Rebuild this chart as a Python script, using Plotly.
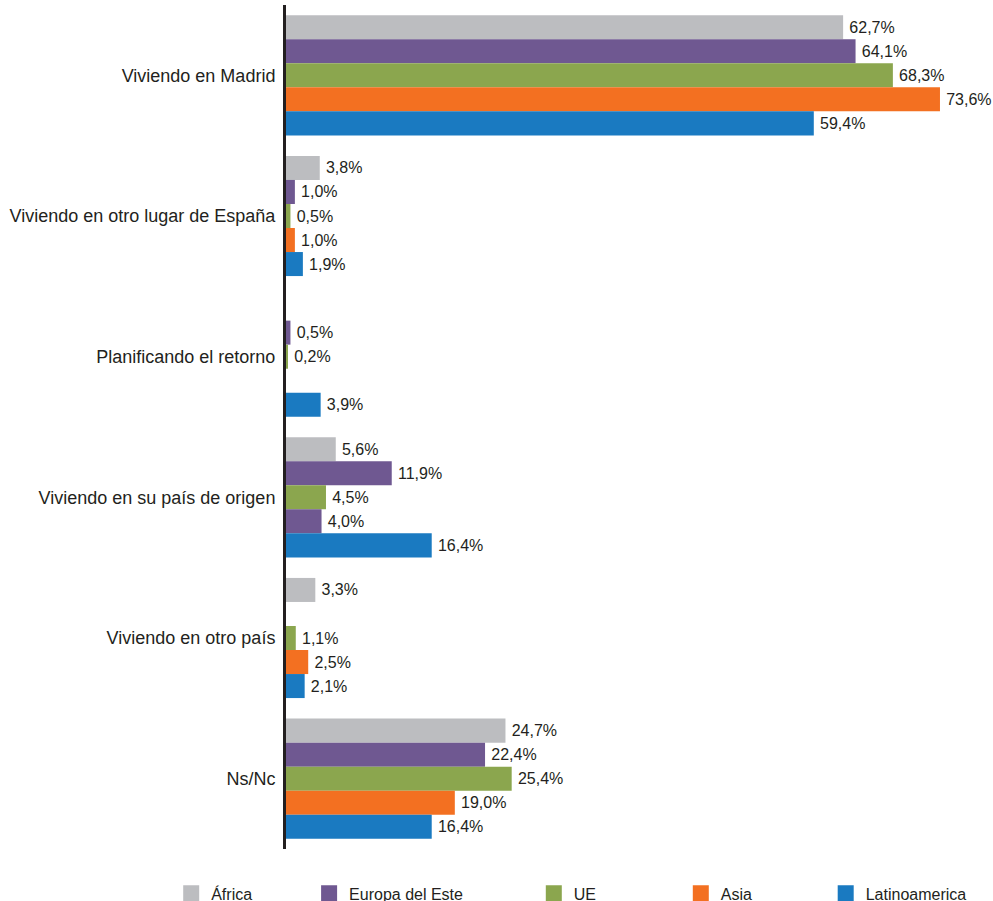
import plotly.graph_objects as go

categories = [
    "Viviendo en Madrid",
    "Viviendo en otro lugar de España",
    "Planificando el retorno",
    "Viviendo en su país de origen",
    "Viviendo en otro país",
    "Ns/Nc",
]

series_names = ["África", "Europa del Este", "UE", "Asia", "Latinoamerica"]

africa = [62.7, 3.8, None, 5.6, 3.3, 24.7]
europa_este = [64.1, 1.0, 0.5, 11.9, None, 22.4]
ue = [68.3, 0.5, 0.2, 4.5, 1.1, 25.4]
asia = [73.6, 1.0, None, 4.0, 2.5, 19.0]
latinoamerica = [59.4, 1.9, 3.9, 16.4, 2.1, 16.4]

series_values = [africa, europa_este, ue, asia, latinoamerica]

GREY = "#bcbdc0"
PURPLE = "#6f5891"
GREEN = "#8ba64e"
ORANGE = "#f37021"
BLUE = "#1a7ac1"
series_colors = [GREY, PURPLE, GREEN, ORANGE, BLUE]

# The Asia bar in "Viviendo en su país de origen" is printed in purple
asia_colors = [ORANGE, ORANGE, ORANGE, PURPLE, ORANGE, ORANGE]

# legend entry positions (paper x) for each series
legend_x = [-0.164, 0.033, 0.354, 0.564, 0.771]

FONT = "Liberation Sans, Arial, sans-serif"
TEXT_COLOR = "#231f20"

fig = go.Figure()
for i, (name, vals) in enumerate(zip(series_names, series_values)):
    colors = asia_colors if name == "Asia" else series_colors[i]
    fig.add_trace(
        go.Bar(
            y=categories,
            x=vals,
            name=name,
            orientation="h",
            marker=dict(color=colors, line=dict(width=0)),
            texttemplate="\u2009%{x:.1f}%",
            textposition="outside",
            textfont=dict(family=FONT, size=16, color=TEXT_COLOR),
            cliponaxis=False,
            showlegend=False,
        )
    )

# Legend entries: square swatches, one legend box per series
for i, name in enumerate(series_names):
    fig.add_trace(
        go.Scatter(
            x=[None],
            y=[None],
            mode="markers",
            name=name,
            marker=dict(symbol="square", size=16, color=series_colors[i]),
            showlegend=True,
            legend="legend" if i == 0 else f"legend{i + 1}",
            hoverinfo="skip",
        )
    )

layout_legends = {}
for i in range(len(series_names)):
    key = "legend" if i == 0 else f"legend{i + 1}"
    layout_legends[key] = dict(
        x=legend_x[i],
        y=-0.0526,
        xanchor="left",
        yanchor="middle",
        orientation="h",
        font=dict(family=FONT, size=16, color=TEXT_COLOR),
        bgcolor="rgba(0,0,0,0)",
        itemwidth=30,
    )

# The page is taller than the viewport, so the legend row sits at the lower edge
fig.update_layout(
    width=993,
    height=930,
    margin=dict(l=286, r=7, t=5, b=81),
    plot_bgcolor="white",
    paper_bgcolor="white",
    barmode="group",
    bargap=0.146,
    bargroupgap=0,
    separators=",.",
    showlegend=True,
    font=dict(family=FONT, size=16, color=TEXT_COLOR),
    xaxis=dict(
        range=[0, 78.78],
        visible=False,
        showgrid=False,
        zeroline=False,
    ),
    yaxis=dict(
        autorange="reversed",
        showline=True,
        linecolor="#231f20",
        linewidth=3,
        showgrid=False,
        ticks="",
        ticklabelstandoff=4,
        tickfont=dict(family=FONT, size=18, color=TEXT_COLOR),
    ),
    **layout_legends,
)

fig.write_html("out.html")
